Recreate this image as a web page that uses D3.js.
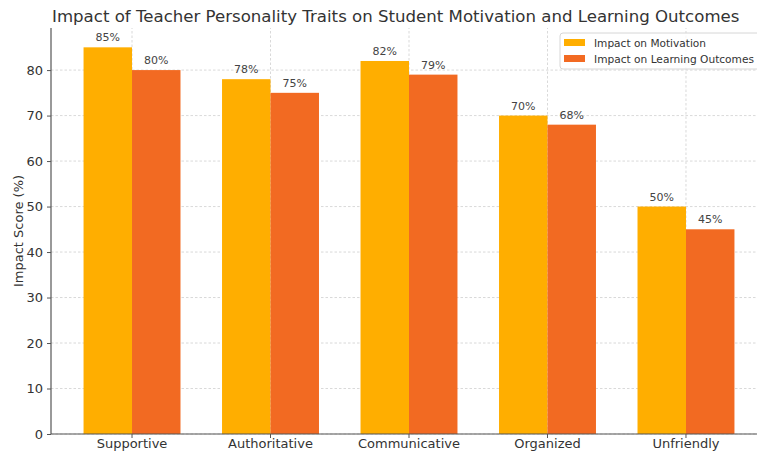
<!DOCTYPE html>
<html>
<head>
<meta charset="utf-8">
<script src="https://cdn.jsdelivr.net/npm/d3@7"></script>
<style>
body { margin: 0; background: #fff; }
svg { font-family: "DejaVu Sans", sans-serif; }
</style>
</head>
<body>
<svg id="chart"></svg>
<script>
var w = 757;
var h = 452;

var traits = ["Supportive", "Authoritative", "Communicative", "Organized", "Unfriendly"];
var motivation = [85, 78, 82, 70, 50];
var outcomes = [80, 75, 79, 68, 45];
var seriesNames = ["Impact on Motivation", "Impact on Learning Outcomes"];
var yTicks = [0, 10, 20, 30, 40, 50, 60, 70, 80];

var colors = ["#FFAE00", "#F26A22"];
var margin = {left: 51, right: -10, top: 28, bottom: 18};
var barW = 0.35;

var svg = d3.select("#chart").attr("width", w).attr("height", h);

// axes area runs past the right edge, as in the reference crop
var x = d3.scaleLinear().domain([-0.585, traits.length - 1 + 0.585]).range([margin.left, w - margin.right]);
var y = d3.scaleLinear().domain([0, 89.25]).range([h - margin.bottom, margin.top]);

// grid
svg.append("g").selectAll("line.gy")
    .data(yTicks).enter().append("line")
    .attr("x1", margin.left).attr("x2", w)
    .attr("y1", function(d){ return y(d); }).attr("y2", function(d){ return y(d); })
    .attr("stroke", "#c8c8c8").attr("stroke-width", 0.7).attr("stroke-dasharray", "2.5,2");
svg.append("g").selectAll("line.gx")
    .data(traits).enter().append("line")
    .attr("x1", function(d, i){ return x(i); }).attr("x2", function(d, i){ return x(i); })
    .attr("y1", y(0)).attr("y2", margin.top)
    .attr("stroke", "#c8c8c8").attr("stroke-width", 0.7).attr("stroke-dasharray", "2.5,2");

// bars
var series = [motivation, outcomes];
series.forEach(function(vals, s) {
    var g = svg.append("g");
    g.selectAll("rect").data(vals).enter().append("rect")
        .attr("x", function(d, i){ return x(i + (s === 0 ? -barW : 0)); })
        .attr("y", function(d){ return y(d); })
        .attr("width", x(barW) - x(0))
        .attr("height", function(d){ return y(0) - y(d); })
        .attr("fill", colors[s]);
    g.selectAll("text").data(vals).enter().append("text")
        .attr("x", function(d, i){ return x(i + (s === 0 ? -barW / 2 : barW / 2)); })
        .attr("y", function(d){ return y(d) - 6; })
        .attr("text-anchor", "middle")
        .attr("font-size", "11px")
        .attr("fill", "#444")
        .text(function(d){ return d + "%"; });
});

// y axis
var yAxis = d3.axisLeft(y).tickValues(yTicks).tickSize(4).tickPadding(4);
var ya = svg.append("g").attr("transform", "translate(" + margin.left + ",0)").call(yAxis);
ya.select(".domain").attr("stroke", "#555").attr("stroke-width", 1.2).attr("d", "M0," + margin.top + "V" + y(0));
ya.selectAll(".tick line").attr("stroke", "#555");
ya.selectAll(".tick text").attr("font-size", "13px").attr("fill", "#333").attr("font-family", "DejaVu Sans");

// x axis
var xa = svg.append("g").attr("transform", "translate(0," + y(0) + ")");
xa.append("line").attr("x1", margin.left).attr("x2", w).attr("y1", 0).attr("y2", 0)
    .attr("stroke", "#555").attr("stroke-width", 1.2);
xa.selectAll("line.t").data(traits).enter().append("line")
    .attr("x1", function(d, i){ return x(i); }).attr("x2", function(d, i){ return x(i); })
    .attr("y1", 0).attr("y2", 4).attr("stroke", "#555");
xa.selectAll("text").data(traits).enter().append("text")
    .attr("x", function(d, i){ return x(i); })
    .attr("y", 14)
    .attr("text-anchor", "middle")
    .attr("font-size", "13px")
    .attr("fill", "#333")
    .text(function(d){ return d; });

// y label
svg.append("text")
    .attr("transform", "translate(23," + ((margin.top + y(0)) / 2) + ") rotate(-90)")
    .attr("text-anchor", "middle")
    .attr("font-size", "13px")
    .attr("fill", "#333")
    .text("Impact Score (%)");

// title
svg.append("text")
    .attr("x", margin.left + 1)
    .attr("y", 22)
    .attr("font-size", "16.6px")
    .attr("fill", "#333")
    .text("Impact of Teacher Personality Traits on Student Motivation and Learning Outcomes");

// legend
var lg = svg.append("g").attr("transform", "translate(560,33)");
lg.append("rect").attr("x", 0).attr("y", 0).attr("width", 210).attr("height", 36).attr("rx", 3)
    .attr("fill", "rgba(255,255,255,0.8)").attr("stroke", "#d6d6d6");
seriesNames.forEach(function(n, i) {
    lg.append("rect").attr("x", 4).attr("y", 6 + i * 16).attr("width", 21).attr("height", 7).attr("fill", colors[i]);
    lg.append("text").attr("x", 34).attr("y", 13.5 + i * 16).attr("font-size", "10.5px").attr("fill", "#333")
        .attr("textLength", i === 0 ? 112 : 160).attr("lengthAdjust", "spacingAndGlyphs").text(n);
});
</script>
</body>
</html>
